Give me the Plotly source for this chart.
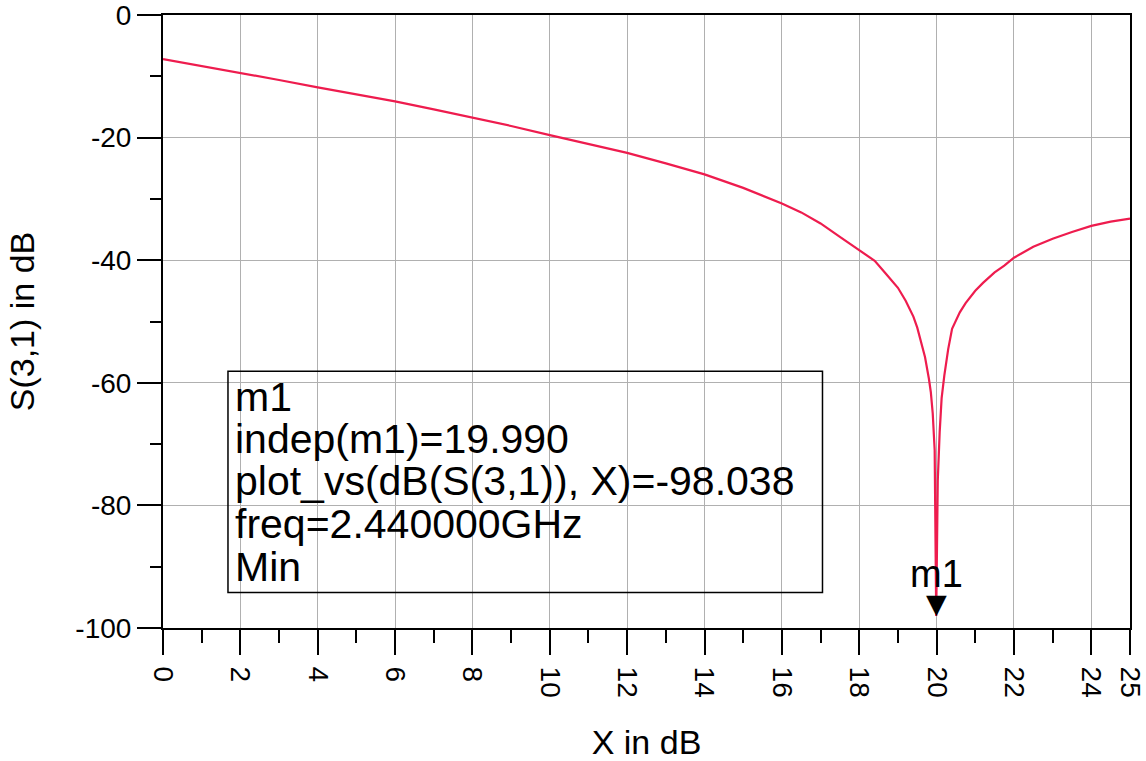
import plotly.graph_objects as go

# ---- data ----
x_db = [0, 1, 2, 3, 4, 5, 6, 7, 8, 9, 10, 11, 12, 13, 14, 15, 16, 16.5, 17, 17.5, 18,
        18.4, 18.7, 19.0, 19.2, 19.4, 19.5, 19.6, 19.7, 19.8, 19.85, 19.9, 19.95, 19.99,
        20.03, 20.08, 20.13, 20.2, 20.3, 20.4, 20.5, 20.6, 20.75, 21.0, 21.2, 21.5, 21.75,
        22, 22.5, 23, 23.5, 24, 24.5, 25]
s31_db = [-7.2, -8.3, -9.4, -10.6, -11.8, -12.9, -14.1, -15.4, -16.75, -18.1, -19.6,
          -21.0, -22.5, -24.2, -26.0, -28.2, -30.75, -32.2, -34.0, -36.2, -38.4,
          -40.1, -42.3, -44.5, -46.6, -49.2, -51.0, -53.2, -55.8, -59.3, -61.5, -65.0, -71.0, -98.038,
          -76.0, -68.0, -62.5, -58.8, -54.5, -51.2, -49.9, -48.5, -47.0, -45.0, -43.7, -42.0, -40.9,
          -39.6, -37.8, -36.5, -35.4, -34.4, -33.7, -33.2]

marker_name = "m1"
marker_x = 19.990
marker_y = -98.038
marker_lines = ["m1", "indep(m1)=19.990", "plot_vs(dB(S(3,1)), X)=-98.038",
                "freq=2.440000GHz", "Min"]

x_major = [0, 2, 4, 6, 8, 10, 12, 14, 16, 18, 20, 22, 24, 25]
x_minor = [1, 3, 5, 7, 9, 11, 13, 15, 17, 19, 21, 23]
y_major = [0, -20, -40, -60, -80, -100]
y_minor = [-10, -30, -50, -70, -90]

FONT = "Liberation Sans, Arial, sans-serif"

fig = go.Figure()
fig.add_trace(go.Scatter(x=x_db, y=s31_db, mode="lines",
                         line=dict(color="#ee1c4e", width=2.2), showlegend=False,
                         hoverinfo="skip"))

# marker readout box (layout element)
fig.add_shape(type="rect", xref="x", yref="y", x0=1.68, x1=17.05, y0=-58.1, y1=-94.2,
              line=dict(color="black", width=1.5), fillcolor="rgba(0,0,0,0)")

line_y_px = [397, 439, 481, 524, 567]
for txt, ypx in zip(marker_lines, line_y_px):
    fig.add_annotation(x=1.81, xref="x", y=-(ypx - 14.8) / 6.13, yref="y",
                       text=txt, showarrow=False, xanchor="left", yanchor="middle",
                       font=dict(family=FONT, size=41, color="black"))

# marker symbol and label
fig.add_annotation(x=marker_x, y=marker_y, xref="x", yref="y", text="▼",
                   showarrow=False, xanchor="center", yanchor="bottom", yshift=-5,
                   font=dict(family="DejaVu Sans", size=27, color="black"))
fig.add_annotation(x=marker_x, y=marker_y, xref="x", yref="y", text=marker_name,
                   showarrow=False, xanchor="center", yanchor="middle", yshift=42,
                   font=dict(family=FONT, size=38, color="black"))

fig.update_xaxes(range=[0, 25], tickmode="array", tickvals=x_major,
                 ticktext=[str(v) for v in x_major], tickangle=90,
                 ticks="outside", ticklen=25, tickwidth=2, tickcolor="black",
                 ticklabelstandoff=6, ticklabeloverflow="allow",
                 showgrid=True, gridcolor="#b0b0b0", gridwidth=1,
                 showline=True, linecolor="black", linewidth=2, mirror=True,
                 zeroline=False,
                 minor=dict(tickvals=x_minor, ticks="outside", ticklen=13,
                            tickwidth=2, tickcolor="black", showgrid=False),
                 tickfont=dict(family=FONT, size=28, color="black"),
                 title=dict(text="X in dB", font=dict(family=FONT, size=34, color="black"),
                            standoff=36))
fig.update_yaxes(range=[-100, 0], tickmode="array", tickvals=y_major,
                 ticktext=[str(v) for v in y_major],
                 ticks="outside", ticklen=24, tickwidth=2, tickcolor="black",
                 ticklabeloverflow="allow",
                 showgrid=True, gridcolor="#b0b0b0", gridwidth=1,
                 showline=True, linecolor="black", linewidth=2, mirror=True,
                 zeroline=False,
                 minor=dict(tickvals=y_minor, ticks="outside", ticklen=11,
                            tickwidth=2, tickcolor="black", showgrid=False),
                 tickfont=dict(family=FONT, size=28, color="black"),
                 title=dict(text="S(3,1) in dB", font=dict(family=FONT, size=34, color="black"),
                            standoff=30))

fig.update_layout(width=1146, height=761, autosize=False,
                  margin=dict(l=163, r=16, t=15, b=133, autoexpand=False),
                  paper_bgcolor="white", plot_bgcolor="white")

# remove the browser's default 8px body margin so the figure fills the window
fig.write_html("out.html", config={"displayModeBar": False},
               post_script="document.body.style.margin='0px';")
